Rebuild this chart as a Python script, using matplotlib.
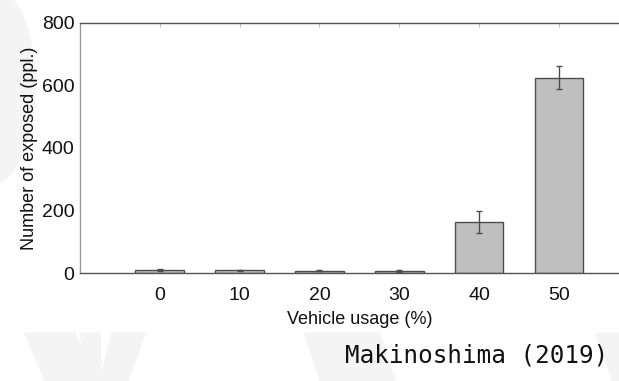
import matplotlib
matplotlib.use("Agg")
import matplotlib.pyplot as plt
from matplotlib.patches import Polygon, Ellipse

categories = ["0", "10", "20", "30", "40", "50"]
values = [10, 9, 8, 7, 165, 625]
errors = [3, 3, 2, 2, 35, 36]
yticks = [0, 200, 400, 600, 800]

plt.rcParams['font.family'] = ['Liberation Sans', 'DejaVu Sans']

fig = plt.figure(figsize=(6.19, 3.81), dpi=100)
fig.patch.set_facecolor('white')

# faint background watermark shapes, on a background axes
bg = fig.add_axes([0, 0, 1, 1], zorder=-10)
bg.set_xlim(0, 619)
bg.set_ylim(381, 0)
bg.axis('off')
wm = '#f4f4f4'
bg.add_patch(Ellipse((-10, 85), 90, 200, color=wm))
bg.add_patch(Polygon([[25, 333], [75, 333], [95, 381], [45, 381]], closed=True, color=wm))
bg.add_patch(Polygon([[80, 333], [100, 333], [100, 381], [85, 381]], closed=True, color=wm))
bg.add_patch(Polygon([[112, 333], [145, 333], [128, 381], [100, 381]], closed=True, color=wm))
bg.add_patch(Polygon([[305, 333], [380, 333], [395, 381], [320, 381]], closed=True, color=wm))
bg.add_patch(Polygon([[595, 333], [619, 333], [619, 381], [612, 381]], closed=True, color=wm))

ax = fig.add_axes([0.1292, 0.2827, 0.9028, 0.6577])
ax.set_facecolor('none')
x = list(range(len(categories)))
ax.bar(x, values, width=0.61, color='#bfbfbf', edgecolor='#4d4d4d', linewidth=1.0, zorder=2)
ax.errorbar(x, values, yerr=errors, fmt='none', ecolor='#4d4d4d', elinewidth=1.0,
            capsize=2.5, capthick=1.0, zorder=3)

ax.set_xlim(-1, 6)
ax.set_ylim(0, 800)
ax.set_xticks(x)
ax.set_xticklabels(categories)
ax.set_yticks(yticks)

for s in ['top', 'bottom']:
    ax.spines[s].set_color('#555555')
    ax.spines[s].set_linewidth(1.0)
ax.spines['left'].set_color('#999999')
ax.spines['left'].set_linewidth(1.0)
ax.spines['right'].set_visible(False)

ax.tick_params(axis='x', direction='in', length=3, color='#bbbbbb', top=True, labelsize=14,
               pad=10, labelcolor='#111111')
ax.tick_params(axis='y', direction='in', length=0, labelsize=14, pad=4, labelcolor='#111111')

ax.set_xlabel('Vehicle usage (%)', fontsize=13, labelpad=5, color='#111111')
ax.set_ylabel('Number of exposed (ppl.)', fontsize=13, labelpad=3, color='#111111')

fig.text(0.982, 0.048, 'Makinoshima (2019)', ha='right', va='baseline',
         fontsize=17.5, family=['DejaVu Sans Mono'], color='#111111')

fig.savefig('out.png', dpi=100, facecolor='white')
